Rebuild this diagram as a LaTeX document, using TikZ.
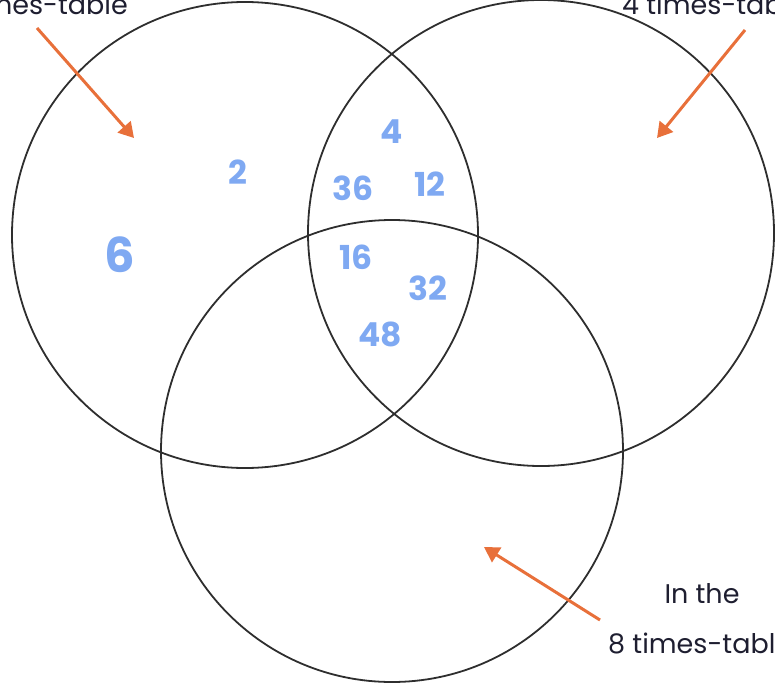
\documentclass[tikz,border=0pt]{standalone}
\usepackage{fontspec}
\setmainfont{Poppins}
\usetikzlibrary{arrows.meta}
\definecolor{ringgray}{HTML}{2E2E2E}
\definecolor{arroworange}{HTML}{E8703A}
\definecolor{numblue}{HTML}{7FA9F2}
\definecolor{labelnavy}{HTML}{1E1E30}
\begin{document}
\begin{tikzpicture}[x=1pt,y=-1pt,
  ring/.style={draw=ringgray,line width=1.8pt},
  pointer/.style={draw=arroworange,line width=3pt,-{Triangle[length=15pt,width=17pt]}},
  num/.style={text=numblue,font=\fontsize{33}{35}\selectfont\bfseries,inner sep=0pt},
  lbl/.style={text=labelnavy,font=\fontsize{27}{30}\selectfont,inner sep=0pt}]
\useasboundingbox (0,0) rectangle (775,682);
\draw[ring] (245,235) circle[radius=233];
\draw[ring] (541,233) circle[radius=233];
\draw[ring] (392,451) circle[radius=231];
% labels
\node[lbl,anchor=base east] (l2) at (128,15) {2 times-table};
\node[lbl,anchor=base west] (l4) at (622,15) {4 times-table};
\node[lbl,anchor=base] (l8a) at (702,603) {In the};
\node[lbl,anchor=base west] (l8b) at (608,653) {8 times-table};
% arrow endpoints
\coordinate (s2) at (37,28);
\coordinate (t2) at (134,138);
\coordinate (s4) at (745,30);
\coordinate (t4) at (657,138);
\coordinate (s8) at (600,620);
\coordinate (t8) at (484,547);
\draw[pointer] (s2) -- (t2);
\draw[pointer] (s4) -- (t4);
\draw[pointer] (s8) -- (t8);
% numbers
\node[num] (n2) at (238,172) {2};
\node[num,font=\fontsize{48}{50}\selectfont\bfseries] (n6) at (120,255) {6};
\node[num] (n4) at (392,132) {4};
\node[num] (n36) at (353,188) {36};
\node[num] (n12) at (430,184) {12};
\node[num] (n16) at (356,257) {16};
\node[num] (n32) at (428,288) {32};
\node[num] (n48) at (380,334) {48};
\end{tikzpicture}
\end{document}
